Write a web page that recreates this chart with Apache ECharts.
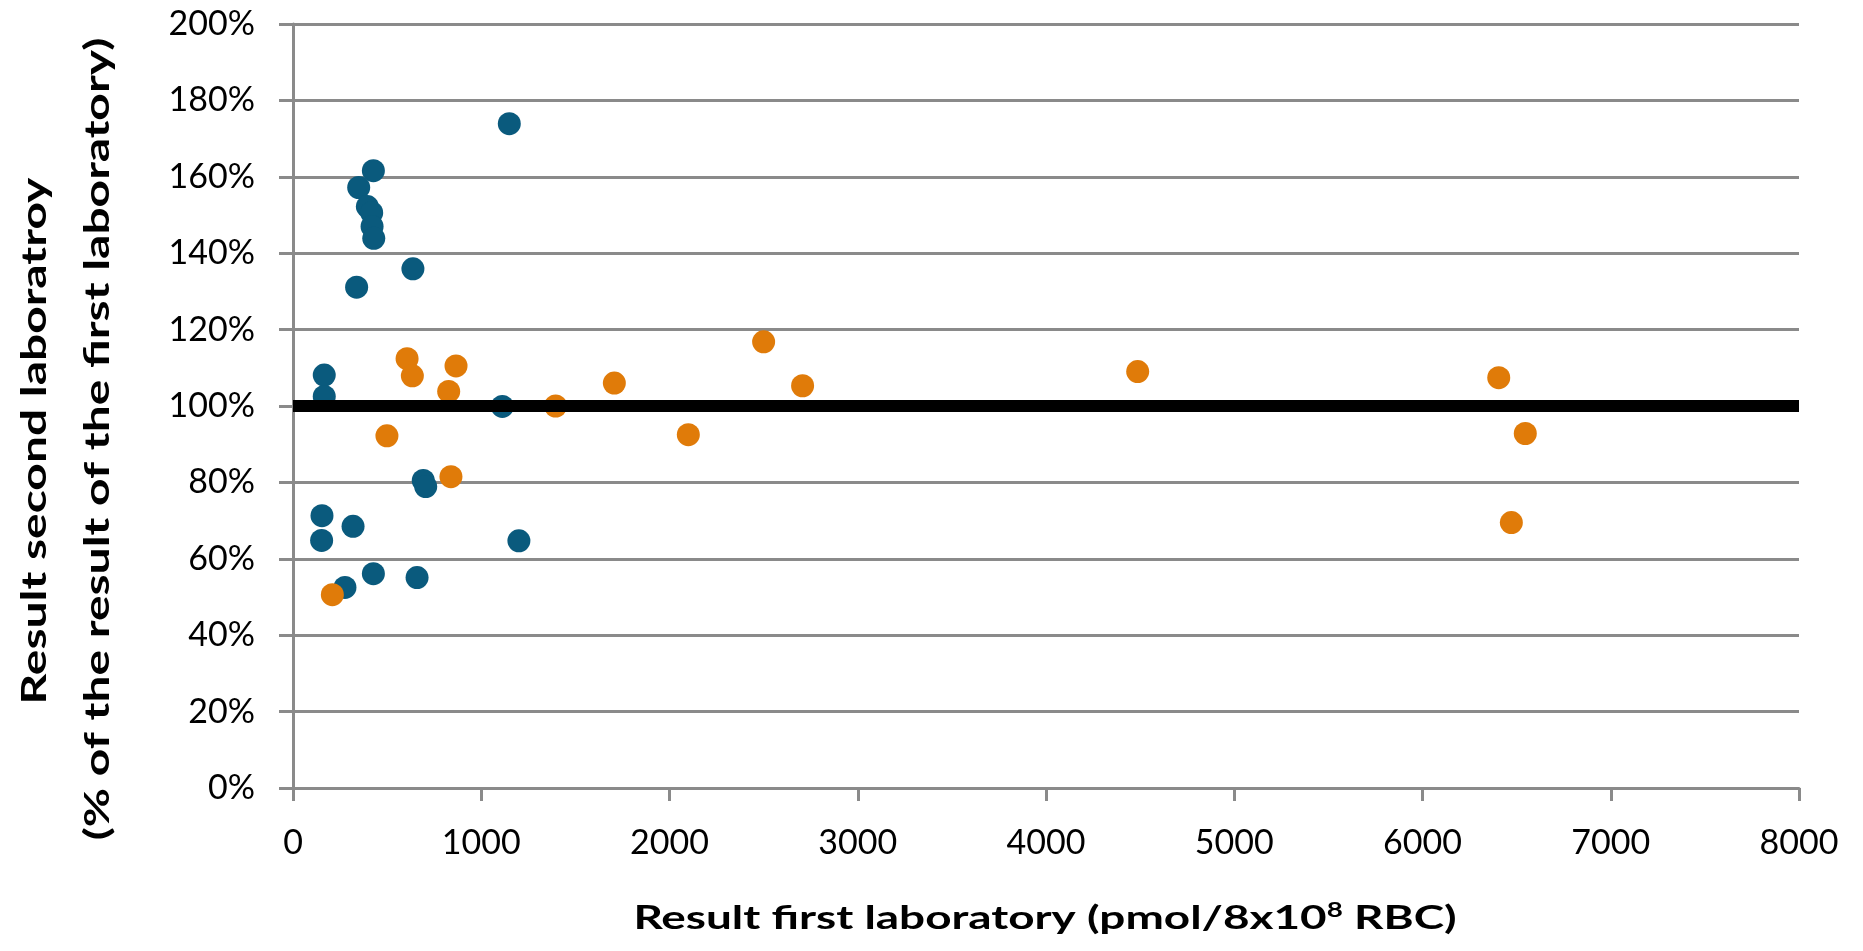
<!DOCTYPE html>
<html>
<head>
<meta charset="utf-8">
<script src="https://cdn.jsdelivr.net/npm/echarts@6/dist/echarts.min.js"></script>
<style>
html,body{margin:0;padding:0;background:#fff;}
#chart{width:1863px;height:951px;}
</style>
</head>
<body>
<div id="chart"></div>
<script>
// First-laboratory result (pmol/8x10^8 RBC) and second-laboratory result (% of first)
var blueX = [1149, 427, 349, 395, 418, 420, 429, 637, 338, 166, 166, 1112, 692, 705, 154, 152, 319, 1200, 427, 659, 276];
var blueY = [173.9, 161.6, 157.2, 152.2, 150.6, 147.0, 143.9, 135.9, 131.1, 108.1, 102.5, 99.9, 80.5, 78.9, 71.3, 64.8, 68.5, 64.7, 56.1, 55.1, 52.5];
var orangeX = [606, 634, 866, 827, 1395, 1707, 499, 839, 209, 2100, 2500, 2707, 4487, 6405, 6546, 6472];
var orangeY = [112.4, 107.9, 110.5, 103.8, 100.0, 106.0, 92.2, 81.5, 50.6, 92.5, 116.8, 105.3, 109.0, 107.4, 92.8, 69.5];
var refX = [0, 8000];
var refY = [100, 100];
var xTicks = [0, 1000, 2000, 3000, 4000, 5000, 6000, 7000, 8000];
var yTicks = [0, 20, 40, 60, 80, 100, 120, 140, 160, 180, 200];
var xTitle = 'Result first laboratory (pmol/8x10{sup|8} RBC)';
var yTitle1 = 'Result second laboratroy';
var yTitle2 = '(% of the result of the first laboratory)';

function pairs(xs, ys) { return xs.map(function (x, i) { return [x, ys[i]]; }); }

var GRAY = '#8a8a8a';
var chart = echarts.init(document.getElementById('chart'), null, {renderer: 'canvas'});
chart.setOption({
  animation: false,
  backgroundColor: '#fff',
  grid: {left: 293, right: 64, top: 24, bottom: 163, containLabel: false, outerBoundsMode: 'none'},
  xAxis: {
    type: 'value', min: xTicks[0], max: xTicks[xTicks.length - 1], interval: 1000,
    axisLine: {show: true, lineStyle: {color: GRAY, width: 3}},
    axisTick: {show: true, length: 13, lineStyle: {color: GRAY, width: 3}},
    splitLine: {show: false},
    axisLabel: {color: '#000', fontFamily: 'Lato', fontSize: 34, margin: 38,
      formatter: function (v) { return String(v); }}
  },
  yAxis: {
    type: 'value', min: yTicks[0], max: yTicks[yTicks.length - 1], interval: 20,
    axisLine: {show: true, lineStyle: {color: GRAY, width: 3}},
    axisTick: {show: true, length: 14, lineStyle: {color: GRAY, width: 3}},
    splitLine: {show: true, lineStyle: {color: GRAY, width: 3}},
    axisLabel: {color: '#000', fontFamily: 'Lato', fontSize: 34, margin: 38, formatter: '{value}%'}
  },
  graphic: [
    {type: 'text', x: 1045, y: 918, scaleX: 1.39, scaleY: 1,
      style: {text: xTitle, fill: '#000', font: 'bold 33px Lato', textAlign: 'center', textVerticalAlign: 'middle',
        rich: {sup: {fill: '#000', font: 'bold 20px Lato', verticalAlign: 'top', padding: [0, 0, 15, 0]}}}},
    {type: 'text', x: 35, y: 441, rotation: Math.PI / 2, scaleX: 1.37, scaleY: 1,
      style: {text: yTitle1, fill: '#000', font: 'bold 35px Lato', textAlign: 'center', textVerticalAlign: 'middle'}},
    {type: 'text', x: 98, y: 439, rotation: Math.PI / 2, scaleX: 1.37, scaleY: 1,
      style: {text: yTitle2, fill: '#000', font: 'bold 35px Lato', textAlign: 'center', textVerticalAlign: 'middle'}}
  ],
  series: [
    {type: 'scatter', data: pairs(blueX, blueY), symbol: 'circle', symbolSize: 23,
      itemStyle: {color: '#0a5a7d', opacity: 1}, z: 3},
    {type: 'scatter', data: pairs(orangeX, orangeY), symbol: 'circle', symbolSize: 23,
      itemStyle: {color: '#e07b09', opacity: 1}, z: 4},
    {type: 'line', data: pairs(refX, refY), symbol: 'none', showSymbol: false,
      lineStyle: {color: '#000', width: 12}, z: 5}
  ]
});
</script>
</body>
</html>
